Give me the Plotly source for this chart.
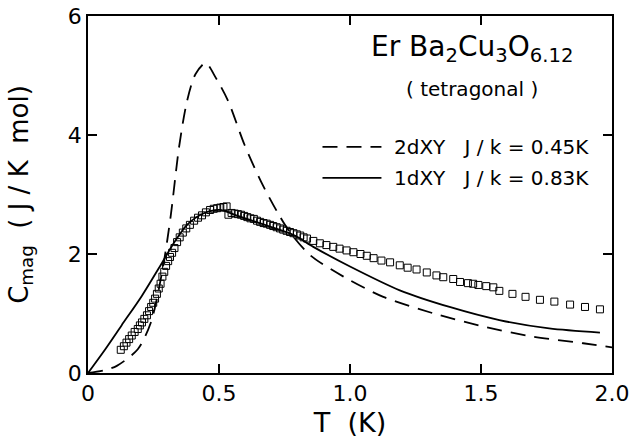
import plotly.graph_objects as go

# ---- data ----
T_2dxy = [0.0, 0.066, 0.11, 0.19, 0.24, 0.285, 0.316, 0.347, 0.378, 0.41, 0.449,
          0.488, 0.535, 0.597, 0.66, 0.722, 0.77, 0.848, 0.975, 1.127,
          1.32, 1.51, 1.70, 1.89, 2.0]
C_2dxy = [0.0, 0.05, 0.12, 0.40, 0.85, 1.75, 2.65, 3.78, 4.57, 5.02, 5.21,
          4.96, 4.57, 3.84, 3.22, 2.71, 2.37, 1.98, 1.62, 1.28,
          1.00, 0.78, 0.61, 0.50, 0.43]

T_1dxy = [0.0, 0.066, 0.128, 0.206, 0.285, 0.33, 0.378, 0.44, 0.503, 0.566,
          0.675, 0.785, 0.86, 1.0, 1.19, 1.38, 1.57, 1.76, 1.954]
C_1dxy = [0.0, 0.40, 0.80, 1.30, 1.87, 2.20, 2.49, 2.68, 2.74, 2.65,
          2.49, 2.32, 2.12, 1.79, 1.39, 1.11, 0.89, 0.75, 0.68]

T_exp = [0.125, 0.137, 0.147, 0.157, 0.167, 0.178, 0.19, 0.198, 0.206, 0.215,
         0.225, 0.233, 0.241, 0.249, 0.256, 0.263, 0.270, 0.277, 0.284, 0.291,
         0.298, 0.306, 0.313, 0.321, 0.330, 0.340, 0.350, 0.362, 0.375, 0.389,
         0.405, 0.420, 0.435, 0.450, 0.466, 0.480, 0.493, 0.505, 0.517, 0.529,
         0.536, 0.548, 0.560, 0.572, 0.584, 0.596, 0.608, 0.620, 0.633, 0.645,
         0.657, 0.670, 0.682, 0.695, 0.707, 0.720, 0.733, 0.745, 0.758, 0.771,
         0.784, 0.797, 0.810, 0.823, 0.836, 0.860, 0.885, 0.91, 0.936, 0.96,
         0.987, 1.013, 1.04, 1.064, 1.09, 1.12, 1.153, 1.19, 1.22, 1.254,
         1.293, 1.33, 1.356, 1.394, 1.42, 1.45, 1.47, 1.49, 1.52, 1.547,
         1.57, 1.62, 1.67, 1.725, 1.78, 1.84, 1.897, 1.954]
C_exp = [0.39, 0.45, 0.51, 0.57, 0.63, 0.69, 0.74, 0.80, 0.85, 0.91,
         0.97, 1.04, 1.11, 1.18, 1.25, 1.33, 1.42, 1.50, 1.62, 1.70,
         1.80, 1.88, 1.95, 2.02, 2.10, 2.20, 2.28, 2.36, 2.43, 2.49,
         2.56, 2.61, 2.65, 2.70, 2.74, 2.76, 2.77, 2.78, 2.79, 2.80,
         2.66, 2.69, 2.68, 2.67, 2.66, 2.64, 2.62, 2.60, 2.59, 2.56,
         2.54, 2.52, 2.51, 2.49, 2.47, 2.45, 2.43, 2.41, 2.39, 2.37,
         2.35, 2.33, 2.31, 2.28, 2.26, 2.22, 2.18, 2.15, 2.12, 2.09,
         2.06, 2.03, 2.00, 1.97, 1.93, 1.89, 1.86, 1.81, 1.77, 1.74,
         1.69, 1.64, 1.61, 1.58, 1.53, 1.51, 1.50, 1.48, 1.46, 1.44,
         1.38, 1.33, 1.28, 1.23, 1.20, 1.15, 1.11, 1.07]

x_tickvals = [0, 0.5, 1.0, 1.5, 2.0]
x_ticktext = ["0", "0.5", "1.0", "1.5", "2.0"]
y_tickvals = [0, 2, 4, 6]
y_ticktext = ["0", "2", "4", "6"]

label_2d = "2dXY   J / k = 0.45K"
label_1d = "1dXY   J / k = 0.83K"

FONT = "DejaVu Sans, Liberation Sans, sans-serif"
DASH = "15px,9px"

fig = go.Figure()
fig.add_trace(go.Scatter(x=T_2dxy, y=C_2dxy, mode="lines", line_shape="spline",
                         line=dict(color="black", width=1.8, dash=DASH, smoothing=0.8),
                         name=label_2d, showlegend=False))
fig.add_trace(go.Scatter(x=T_1dxy, y=C_1dxy, mode="lines", line_shape="spline",
                         line=dict(color="black", width=1.8, smoothing=0.8),
                         name=label_1d, showlegend=False))
fig.add_trace(go.Scatter(x=T_exp, y=C_exp, mode="markers",
                         marker=dict(symbol="square-open", size=7, color="black",
                                     line=dict(width=1)),
                         name="data", showlegend=False))

# legend keys drawn as short line shapes
fig.add_shape(type="line", x0=0.895, x1=1.12, y0=3.80, y1=3.80, xref="x", yref="y",
              line=dict(color="black", width=1.8, dash=DASH))
fig.add_shape(type="line", x0=0.895, x1=1.12, y0=3.28, y1=3.28, xref="x", yref="y",
              line=dict(color="black", width=1.8))
fig.add_annotation(x=1.16, y=3.80, text=label_2d, showarrow=False, xanchor="left",
                   font=dict(family=FONT, size=20, color="black"))
fig.add_annotation(x=1.16, y=3.28, text=label_1d, showarrow=False, xanchor="left",
                   font=dict(family=FONT, size=20, color="black"))
fig.add_annotation(x=1.466, y=5.45, text="Er Ba<sub>2</sub>Cu<sub>3</sub>O<sub>6.12</sub>",
                   showarrow=False, font=dict(family=FONT, size=28, color="black"))
fig.add_annotation(x=1.466, y=4.78, text="( tetragonal )", showarrow=False,
                   font=dict(family=FONT, size=20, color="black"))

axis_common = dict(showgrid=False, zeroline=False, showline=True, linecolor="black",
                   linewidth=1.5, mirror="ticks", ticks="inside", ticklen=9,
                   tickwidth=1.5, tickcolor="black", automargin=False,
                   tickfont=dict(family=FONT, size=22, color="black"))

fig.update_xaxes(range=[0, 2.0], tickvals=x_tickvals, ticktext=x_ticktext,
                 title=dict(text="T  (K)", font=dict(family=FONT, size=27, color="black"),
                            standoff=22),
                 **axis_common)
fig.update_yaxes(range=[0, 6], tickvals=y_tickvals, ticktext=y_ticktext,
                 title=dict(text="C<sub>mag</sub>  ( J / K  mol)",
                            font=dict(family=FONT, size=26, color="black"), standoff=32),
                 **axis_common)

fig.update_layout(width=642, height=438, margin=dict(l=88, r=30, t=16, b=65),
                  paper_bgcolor="white", plot_bgcolor="white")

fig.write_html("out.html", config={"displayModeBar": False},
               post_script="document.body.style.margin='0';document.body.style.overflow='hidden';")
